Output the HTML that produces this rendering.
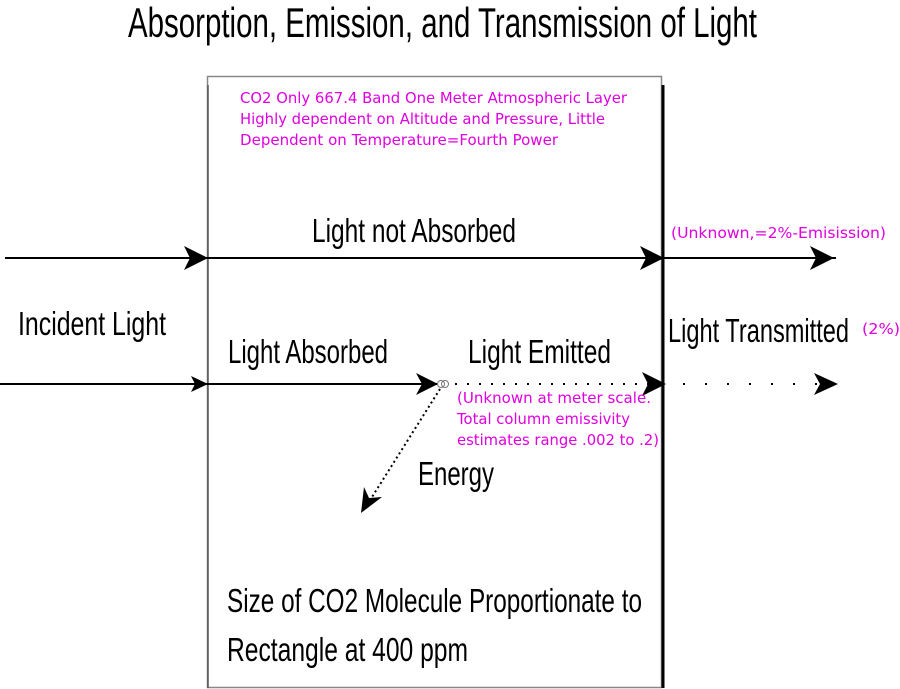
<!DOCTYPE html>
<html><head><meta charset="utf-8"><style>
html,body{margin:0;padding:0;background:#fff;}
svg{display:block;}
.c{font-family:"Liberation Sans Narrow","Liberation Sans",sans-serif;fill:#000;}
.m{font-family:"DejaVu Sans","Liberation Sans",sans-serif;fill:#e000e0;font-size:15.5px;}
</style></head><body>
<svg width="900" height="689" viewBox="0 0 900 689" xmlns="http://www.w3.org/2000/svg">
<rect x="0" y="0" width="900" height="689" fill="#fff"/>
<rect x="207.5" y="76.5" width="454" height="611" fill="none" stroke="#888" stroke-width="1.5"/>
<line x1="208" y1="85" x2="208" y2="688" stroke="#555" stroke-width="1.5"/>
<line x1="663" y1="85" x2="663" y2="688" stroke="#000" stroke-width="3"/>
<text class="c" x="128" y="37" font-size="42" textLength="629" lengthAdjust="spacingAndGlyphs">Absorption, Emission, and Transmission of Light</text>
<text class="m" x="240" y="103" textLength="387" lengthAdjust="spacingAndGlyphs">CO2 Only 667.4 Band One Meter Atmospheric Layer</text>
<text class="m" x="240" y="124" textLength="365" lengthAdjust="spacingAndGlyphs">Highly dependent on Altitude and Pressure, Little</text>
<text class="m" x="240" y="145" textLength="318" lengthAdjust="spacingAndGlyphs">Dependent on Temperature=Fourth Power</text>
<line x1="5" y1="258" x2="836" y2="258" stroke="#000" stroke-width="2"/>
<path d="M208 258 L184 246 L190 258 L184 270 Z" fill="#000"/>
<path d="M664 258 L640 246 L646 258 L640 270 Z" fill="#000"/>
<path d="M834 258 L810 246 L816 258 L810 270 Z" fill="#000"/>
<line x1="0" y1="384" x2="438" y2="384" stroke="#000" stroke-width="2"/>
<path d="M208 384 L191 376 L195 384 L191 392 Z" fill="#000"/>
<path d="M438 384 L416 373 L422 384 L416 395 Z" fill="#000"/>
<circle cx="441" cy="384" r="3.5" fill="none" stroke="#777" stroke-width="1"/>
<circle cx="445" cy="384" r="3.5" fill="none" stroke="#777" stroke-width="1"/>
<line x1="455" y1="384" x2="660" y2="384" stroke="#000" stroke-width="2" stroke-dasharray="2,10"/>
<path d="M666 384 L642 372 L648 384 L642 396 Z" fill="#000"/>
<line x1="683" y1="384" x2="820" y2="384" stroke="#000" stroke-width="2" stroke-dasharray="2,20"/>
<path d="M838 384 L814 373 L820 384 L814 395 Z" fill="#000"/>
<line x1="440" y1="389" x2="367" y2="505" stroke="#000" stroke-width="2" stroke-dasharray="2,3"/>
<path d="M361 513 L364 487 L369 498 L382 497 Z" fill="#000"/>
<text class="c" x="312" y="242" font-size="33" textLength="204" lengthAdjust="spacingAndGlyphs">Light not Absorbed</text>
<text class="m" x="671" y="238" textLength="215" lengthAdjust="spacingAndGlyphs">(Unknown,=2%-Emisission)</text>
<text class="c" x="18" y="335" font-size="33" textLength="148" lengthAdjust="spacingAndGlyphs">Incident Light</text>
<text class="c" x="228" y="363" font-size="33" textLength="160" lengthAdjust="spacingAndGlyphs">Light Absorbed</text>
<text class="c" x="468" y="363" font-size="33" textLength="143" lengthAdjust="spacingAndGlyphs">Light Emitted</text>
<text class="c" x="668" y="342" font-size="33" textLength="181" lengthAdjust="spacingAndGlyphs">Light Transmitted</text>
<text class="m" x="862" y="334" textLength="38" lengthAdjust="spacingAndGlyphs">(2%)</text>
<text class="m" x="457" y="403" textLength="194" lengthAdjust="spacingAndGlyphs">(Unknown at meter scale.</text>
<text class="m" x="457" y="424" textLength="173" lengthAdjust="spacingAndGlyphs">Total column emissivity</text>
<text class="m" x="457" y="445" textLength="202" lengthAdjust="spacingAndGlyphs">estimates range .002 to .2)</text>
<text class="c" x="418" y="485" font-size="33" textLength="76" lengthAdjust="spacingAndGlyphs">Energy</text>
<text class="c" x="227" y="612" font-size="33" textLength="415" lengthAdjust="spacingAndGlyphs">Size of CO2 Molecule Proportionate to</text>
<text class="c" x="227" y="661" font-size="33" textLength="241" lengthAdjust="spacingAndGlyphs">Rectangle at 400 ppm</text>
</svg>
</body></html>
